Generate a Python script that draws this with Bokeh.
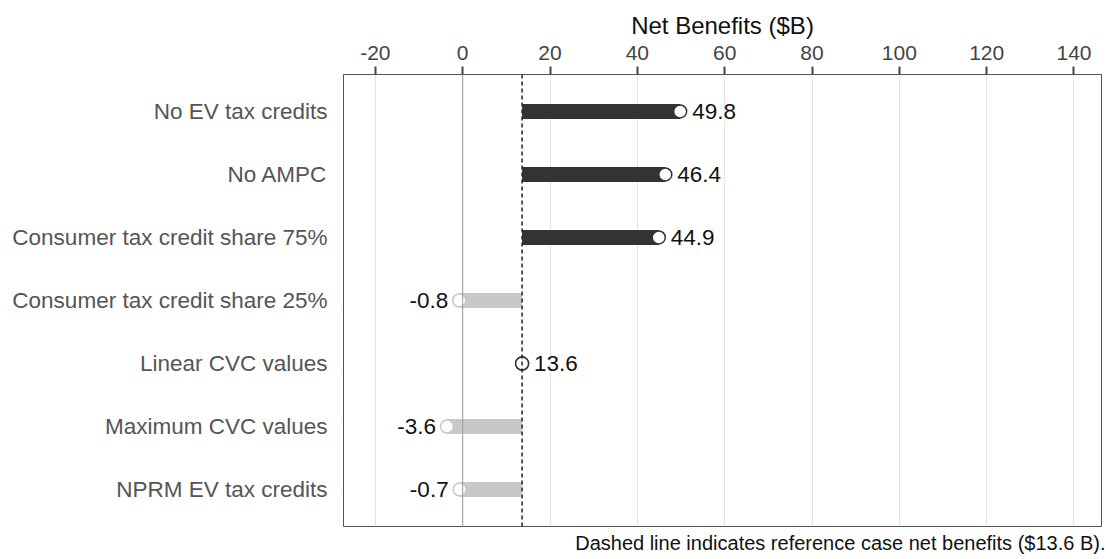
from bokeh.plotting import figure
from bokeh.models import ColumnDataSource, FactorRange, Range1d, FixedTicker, Span, Title
from bokeh.embed import file_html
from bokeh.resources import INLINE
from bokeh.core.properties import value

scenarios = ["No EV tax credits", "No AMPC", "Consumer tax credit share 75%",
             "Consumer tax credit share 25%", "Linear CVC values",
             "Maximum CVC values", "NPRM EV tax credits"]
net_benefits = [49.8, 46.4, 44.9, -0.8, 13.6, -3.6, -0.7]
reference = 13.6
x_ticks = [-20, 0, 20, 40, 60, 80, 100, 120, 140]

FONT = "Liberation Sans"
DARK = "#333333"
LIGHT = "#c8c8c8"

bar_color = [DARK if v >= reference else LIGHT for v in net_benefits]
labels = [f"{v:.1f}" for v in net_benefits]
src = ColumnDataSource(dict(y=scenarios, left=[reference] * len(scenarios), right=net_benefits,
                            color=bar_color, label=labels))

pos = [i for i, v in enumerate(net_benefits) if v >= reference]
neg = [i for i, v in enumerate(net_benefits) if v < reference]
src_pos = ColumnDataSource(dict(y=[scenarios[i] for i in pos], x=[net_benefits[i] for i in pos],
                                label=[labels[i] for i in pos]))
src_neg = ColumnDataSource(dict(y=[scenarios[i] for i in neg], x=[net_benefits[i] for i in neg],
                                label=[labels[i] for i in neg]))

p = figure(y_range=FactorRange(factors=list(reversed(scenarios)), range_padding=0.087,
                               range_padding_units="absolute"),
           x_range=Range1d(-27.3, 146.3),
           x_axis_location="above",
           frame_width=758, frame_height=452,
           min_border_left=343, min_border_top=74, min_border_right=8, min_border_bottom=33,
           output_backend="svg", toolbar_location=None)

p.background_fill_color = "white"
p.outline_line_color = "#555555"
p.outline_line_width = 1

# grid
p.xgrid.ticker = FixedTicker(ticks=x_ticks)
p.xgrid.grid_line_color = "#e3e3e3"
p.xgrid.grid_line_width = 1
p.ygrid.grid_line_color = None

p.add_layout(Span(location=0, dimension="height", line_color="#9a9a9a", line_width=1))
p.add_layout(Span(location=reference, dimension="height", line_color="#222222",
                  line_width=1.5, line_dash="4 3"))

# x axis (top)
xa = p.xaxis[0]
xa.ticker = FixedTicker(ticks=x_ticks)
xa.major_label_overrides = {t: str(t) for t in x_ticks}
xa.axis_label = "Net Benefits ($B)"
xa.axis_label_text_font = FONT
xa.axis_label_text_font_size = "24px"
xa.axis_label_text_font_style = "normal"
xa.axis_label_text_color = "#111111"
xa.axis_label_standoff = 4
xa.major_label_text_font = FONT
xa.major_label_text_font_size = "21px"
xa.major_label_text_color = "#444444"
xa.major_label_standoff = 7
xa.major_tick_out = 8
xa.major_tick_in = 0
xa.major_tick_line_color = "#444444"
xa.major_tick_line_width = 2
xa.minor_tick_line_color = None
xa.axis_line_color = "#555555"

# y axis
ya = p.yaxis[0]
ya.major_label_text_font = FONT
ya.major_label_text_font_size = "22.5px"
ya.major_label_text_color = "#555555"
ya.major_label_standoff = 10
ya.major_tick_line_color = None
ya.minor_tick_line_color = None
ya.axis_line_color = None

# bars
p.hbar(y="y", left="left", right="right", height=0.24, fill_color="color",
       line_color=None, source=src)

# end markers
p.scatter(x="right", y="y", size=13, fill_color="white", line_color="color", line_width=1.5,
          source=src)
src_ref = ColumnDataSource(dict(x=[v for v in net_benefits if v == reference],
                                y=[s for s, v in zip(scenarios, net_benefits) if v == reference]))
p.scatter(x="x", y="y", size=13, fill_color="white", line_color=DARK, line_width=1.5,
          source=src_ref)

# value labels
p.text(x="x", y="y", text="label", source=src_pos, x_offset=12, text_align="left",
       text_baseline="middle", text_font=value(FONT), text_font_size="22.5px",
       text_color="#111111")
p.text(x="x", y="y", text="label", source=src_neg, x_offset=-11, text_align="right",
       text_baseline="middle", text_font=value(FONT), text_font_size="22.5px",
       text_color="#111111")

cap = Title(text="Dashed line indicates reference case net benefits ($13.6 B).",
            align="right", text_font=FONT, text_font_size="20px", text_font_style="normal",
            text_color="#111111", offset=-4, standoff=6)
p.add_layout(cap, "below")

open("out.html", "w").write(file_html(p, INLINE))
